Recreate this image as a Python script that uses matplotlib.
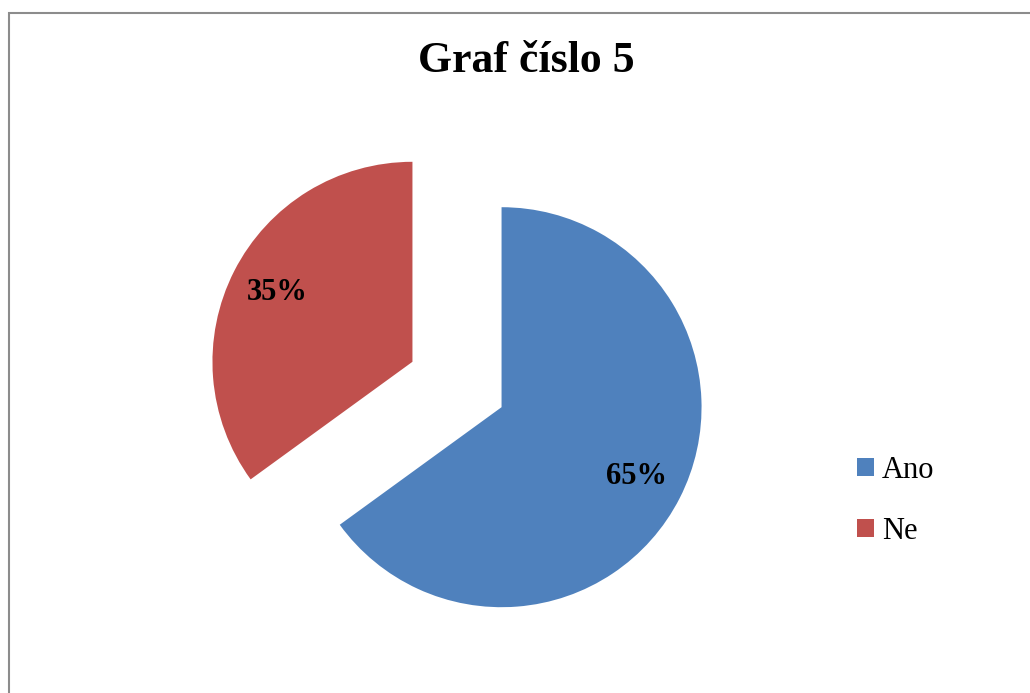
import matplotlib.pyplot as plt
from matplotlib.patches import Rectangle

labels = ['Ano', 'Ne']
values = [65, 35]
colors = ['#4F81BD', '#C0504D']
title = 'Graf číslo 5'

W, H = 1030, 693
plt.rcParams['font.family'] = ['Liberation Serif', 'DejaVu Serif']

fig = plt.figure(figsize=(W / 100, H / 100), dpi=100)

# gray frame around the chart area
fig.patches.append(Rectangle((9 / W, -0.05), 1.1, (H - 13) / H + 0.05,
                             transform=fig.transFigure, fill=False,
                             edgecolor='#8c8c8c', linewidth=1.5))

# square axes so radius 1 = 200 px, pie centre at (457, 384.5)
cx, cy = 457, H - 384.5
ax = fig.add_axes([(cx - 300) / W, (cy - 300) / H, 600 / W, 600 / H])
wedges, _, autotexts = ax.pie(values, colors=colors, startangle=90, counterclock=False,
                              explode=[0.25, 0.25], autopct='%1.0f%%', pctdistance=0.76,
                              textprops=dict(fontsize=22, fontweight='bold', color='black'))
ax.set_xlim(-1.5, 1.5)
ax.set_ylim(-1.5, 1.5)
ax.set_aspect('equal')
ax.axis('off')

fig.text(526 / W, 1 - 61 / H, title, ha='center', va='center',
         fontsize=31.5, fontweight='bold')

fig.legend(wedges, labels, loc='center left', bbox_to_anchor=(857 / W, 1 - 501 / H),
           frameon=False, fontsize=22, handlelength=0.55, handleheight=0.55,
           handletextpad=0.27, labelspacing=1.05, borderpad=0, borderaxespad=0)

fig.savefig('out.png', dpi=100)
